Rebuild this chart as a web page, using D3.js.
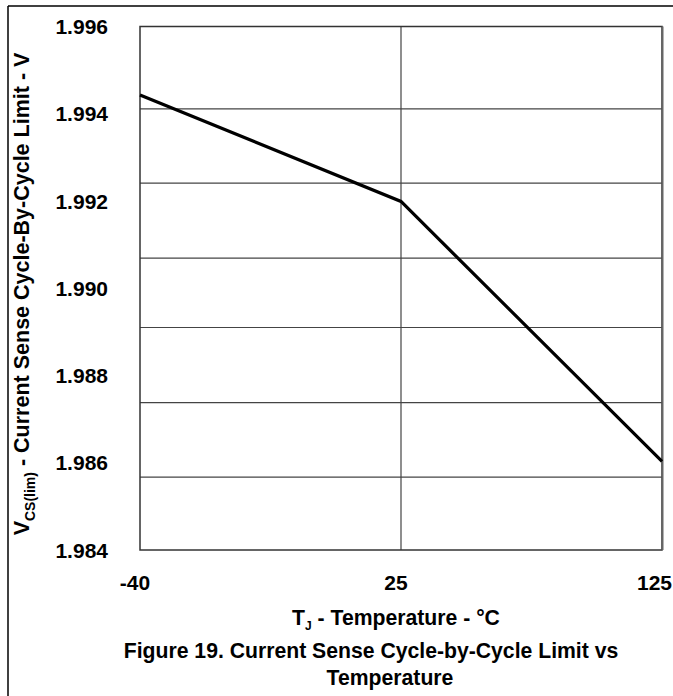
<!DOCTYPE html>
<html>
<head>
<meta charset="utf-8">
<script src="https://cdn.jsdelivr.net/npm/d3@7"></script>
<style>
  html, body { margin: 0; padding: 0; background: #fff; }
  svg { display: block; }
  text { font-family: "Liberation Sans", Arial, sans-serif; font-weight: bold; fill: #000; }
</style>
</head>
<body>
<svg id="chart" width="673" height="696"></svg>
<script>
// Junction temperature categories (°C) and the measured cycle-by-cycle limit (V)
const temperatures = ["-40", "25", "125"];
const limitVolts = [1.99443, 1.99199, 1.98603];

// Y tick labels
const yTicks = [1.996, 1.994, 1.992, 1.990, 1.988, 1.986, 1.984];
// Horizontal grid rule levels (V)
const gridLevels = [1.99411, 1.99241, 1.99069, 1.98910, 1.98738, 1.98567];
// Vertical grid rule at the room-temperature point
const vGrid = ["25"];

const W = 673, H = 696;
const svg = d3.select("#chart");
const plot = { left: 140, right: 662, top: 26.5, bottom: 550 };

const x = d3.scalePoint().domain(temperatures).range([plot.left, plot.right]).padding(0);
const y = d3.scaleLinear().domain([1.984, 1.996]).range([plot.bottom, plot.top]);

// Outer figure frame (left and top edges)
svg.append("line").attr("x1", 8).attr("x2", 8).attr("y1", 6).attr("y2", H)
  .attr("stroke", "#000").attr("stroke-width", 1.5);
svg.append("line").attr("x1", 8).attr("x2", W).attr("y1", 6).attr("y2", 6)
  .attr("stroke", "#000").attr("stroke-width", 1.5);

// Grid
const grid = svg.append("g").attr("stroke", "#444").attr("stroke-width", 1.2);
grid.selectAll("line.h").data(gridLevels).join("line")
  .attr("class", "h")
  .attr("x1", plot.left).attr("x2", plot.right)
  .attr("y1", d => y(d)).attr("y2", d => y(d));
grid.selectAll("line.v").data(vGrid).join("line")
  .attr("class", "v")
  .attr("x1", d => x(d)).attr("x2", d => x(d))
  .attr("y1", plot.top).attr("y2", plot.bottom);

// Plot frame
svg.append("rect")
  .attr("x", plot.left).attr("y", plot.top)
  .attr("width", plot.right - plot.left).attr("height", plot.bottom - plot.top)
  .attr("fill", "none").attr("stroke", "#333").attr("stroke-width", 1.5);
svg.append("line")
  .attr("x1", plot.right + 0.5).attr("x2", plot.right + 0.5)
  .attr("y1", plot.top).attr("y2", plot.bottom)
  .attr("stroke", "#666").attr("stroke-width", 2);

// Data line
const line = d3.line().x((d, i) => x(temperatures[i])).y(d => y(d));
svg.append("path").datum(limitVolts)
  .attr("d", line)
  .attr("fill", "none").attr("stroke", "#000").attr("stroke-width", 3.2)
  .attr("stroke-linejoin", "miter");

// Y tick labels
svg.append("g").selectAll("text").data(yTicks).join("text")
  .attr("x", 108).attr("y", d => y(d))
  .attr("text-anchor", "end").attr("dominant-baseline", "central")
  .attr("font-size", 21)
  .text(d => d3.format(".3f")(d));

// X tick labels (kept inside the right edge of the figure)
svg.append("g").selectAll("text").data(temperatures).join("text")
  .attr("y", 589.5)
  .attr("text-anchor", "middle")
  .attr("font-size", 21)
  .text(d => d)
  .attr("x", function (d) {
    const half = this.getComputedTextLength() / 2;
    return Math.min(x(d) - 5, W - half - 1);
  });

// X axis title
const xt = svg.append("text").attr("x", 396).attr("y", 625)
  .attr("text-anchor", "middle").attr("font-size", 21.2);
xt.append("tspan").text("T");
xt.append("tspan").attr("font-size", 12).attr("dy", 5).text("J");
xt.append("tspan").attr("dy", -5).text(" - Temperature - °C");

// Y axis title
const yt = svg.append("text")
  .attr("transform", "translate(28.5,294) rotate(-90)")
  .attr("text-anchor", "middle").attr("font-size", 21.5);
yt.append("tspan").text("V");
yt.append("tspan").attr("font-size", 14).attr("dy", 6).text("CS(lim)");
yt.append("tspan").attr("dy", -6).text(" - Current Sense Cycle-By-Cycle Limit - V");

// Figure caption
svg.append("text").attr("x", 371).attr("y", 658)
  .attr("text-anchor", "middle").attr("font-size", 21.2)
  .text("Figure 19. Current Sense Cycle-by-Cycle Limit vs");
svg.append("text").attr("x", 390).attr("y", 685)
  .attr("text-anchor", "middle").attr("font-size", 21.2)
  .text("Temperature");
</script>
</body>
</html>
